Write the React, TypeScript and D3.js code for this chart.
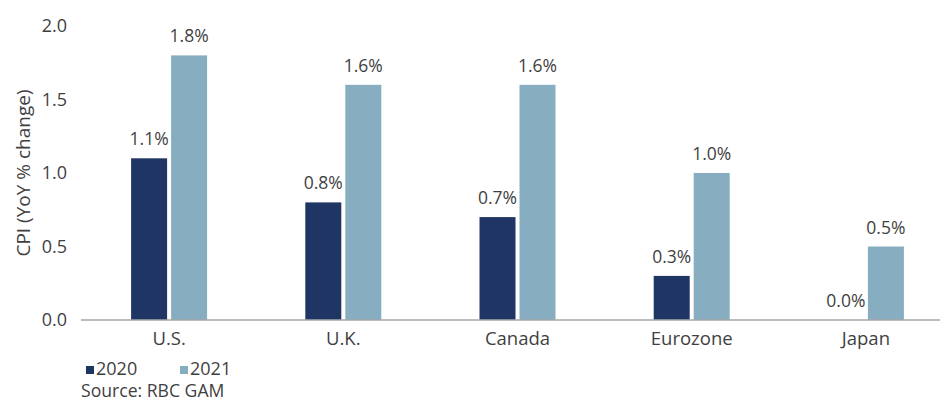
import React from "react";
import * as d3 from "d3";

const categories = ["U.S.", "U.K.", "Canada", "Eurozone", "Japan"];
const series2020 = [1.1, 0.8, 0.7, 0.3, 0.0];
const series2021 = [1.8, 1.6, 1.6, 1.0, 0.5];
const seriesNames = ["2020", "2021"];
const yTicks = [0, 0.5, 1.0, 1.5, 2.0];

const W = 940;
const H = 403;
const FONT = "'Open Sans', 'Noto Sans', sans-serif";
const TEXT = "#3f3f3f";
const COLORS = ["#1f3564", "#87adc0"];

export default function App() {
  const x = d3.scaleBand<string>().domain(categories).range([82, 953]).paddingInner(0).paddingOuter(0);
  const y = d3.scaleLinear().domain([0, 2]).range([320, 26]);
  const barW = 36;
  const gap = 4;
  const series = [series2020, series2021];

  return (
    <svg width={W} height={H} style={{ position: "absolute", left: 0, top: 0, background: "#fff" }} fontFamily={FONT}>
      {yTicks.map((t) => (
        <text key={t} x={67} y={y(t)} dy="0.35em" textAnchor="end" fontSize={18} fill={TEXT}>
          {d3.format(".1f")(t)}
        </text>
      ))}
      <text
        transform={`translate(23,${y(1)}) rotate(-90)`}
        textAnchor="middle"
        dy="0.35em"
        fontSize={19}
        fill={TEXT}
      >
        CPI (YoY % change)
      </text>
      {categories.map((c, i) => {
        const cx = (x(c) as number) + x.bandwidth() / 2;
        return (
          <g key={c}>
            {series.map((s, j) => {
              const bx = j === 0 ? cx - gap / 2 - barW : cx + gap / 2;
              const v = s[i];
              return (
                <g key={j}>
                  {v > 0 && (
                    <rect x={bx} y={y(v)} width={barW} height={y(0) - y(v)} fill={COLORS[j]} />
                  )}
                  <text x={bx + barW / 2} y={y(v) - 13} textAnchor="middle" fontSize={17.5} fill={TEXT}>
                    {d3.format(".1f")(v) + "%"}
                  </text>
                </g>
              );
            })}
            <text x={cx} y={y(0) + 25} textAnchor="middle" fontSize={18.5} fill={TEXT}>
              {c}
            </text>
          </g>
        );
      })}
      <line x1={81} x2={940} y1={y(0)} y2={y(0)} stroke="#a6a6a6" strokeWidth={1.5} />
      {seriesNames.map((n, j) => (
        <g key={n} transform={`translate(${86 + j * 94},0)`}>
          <rect x={0} y={366} width={8} height={8} fill={COLORS[j]} />
          <text x={10} y={375} fontSize={18} fill={TEXT}>
            {n}
          </text>
        </g>
      ))}
      <text x={81} y={397} fontSize={17.6} fill={TEXT}>
        Source: RBC GAM
      </text>
    </svg>
  );
}
